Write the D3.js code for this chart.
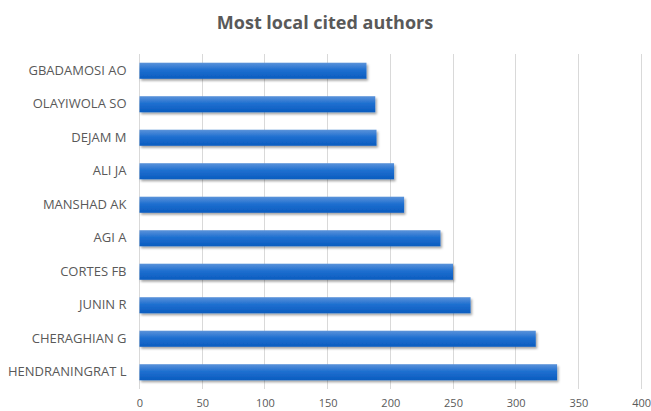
<!DOCTYPE html>
<html>
<head>
<meta charset="utf-8">
<script src="https://cdn.jsdelivr.net/npm/d3@7"></script>
<style>
  html, body { margin: 0; padding: 0; background: #fff; }
  svg { display: block; }
</style>
</head>
<body>
<svg id="chart" width="651" height="411"></svg>
<script>
// Authors, top of chart first
const authors = ["GBADAMOSI AO", "OLAYIWOLA SO", "DEJAM M", "ALI JA", "MANSHAD AK",
                 "AGI A", "CORTES FB", "JUNIN R", "CHERAGHIAN G", "HENDRANINGRAT L"];
// Local citation counts
const citations = [181, 188, 189, 203, 211, 240, 250, 264, 316, 333];
// X axis ticks
const xTicks = [0, 50, 100, 150, 200, 250, 300, 350, 400];

const svg = d3.select("#chart");
const margin = { left: 139.5, right: 10, top: 54, bottom: 22 };
const W = 651, H = 411;

const x = d3.scaleLinear().domain([0, 400]).range([margin.left, margin.left + 400 * 1.254]);
const y = d3.scaleBand().domain(authors).range([margin.top, H - margin.bottom]).paddingInner(0.52).paddingOuter(0.26);

const defs = svg.append("defs");
const grad = defs.append("linearGradient").attr("id", "barGrad")
  .attr("x1", 0).attr("y1", 0).attr("x2", 0).attr("y2", 1);
grad.append("stop").attr("offset", "0%").attr("stop-color", "#5b93da");
grad.append("stop").attr("offset", "45%").attr("stop-color", "#1f6fd0");
grad.append("stop").attr("offset", "100%").attr("stop-color", "#0a5cbf");

const shadow = defs.append("filter").attr("id", "shadow")
  .attr("x", "-5%").attr("y", "-30%").attr("width", "115%").attr("height", "190%");
shadow.append("feDropShadow").attr("dx", 1.5).attr("dy", 2).attr("stdDeviation", 1.2)
  .attr("flood-color", "#000").attr("flood-opacity", 0.35);

// Title
svg.append("text")
  .attr("x", 325).attr("y", 29)
  .attr("text-anchor", "middle")
  .attr("font-family", "'Open Sans', 'Liberation Sans', sans-serif")
  .attr("font-weight", "bold")
  .attr("font-size", 18)
  .attr("fill", "#595959")
  .text("Most local cited authors");

// Vertical gridlines
svg.append("g").selectAll("line").data(xTicks).join("line")
  .attr("x1", d => x(d)).attr("x2", d => x(d))
  .attr("y1", margin.top).attr("y2", H - margin.bottom)
  .attr("stroke", "#d9d9d9").attr("stroke-width", 1)
  .attr("shape-rendering", "crispEdges");

// Bars
svg.append("g").selectAll("rect").data(authors).join("rect")
  .attr("x", x(0))
  .attr("y", d => y(d))
  .attr("width", (d, i) => x(citations[i]) - x(0))
  .attr("height", y.bandwidth())
  .attr("fill", "url(#barGrad)")
  .attr("filter", "url(#shadow)");

// Category labels
const yAxis = d3.axisLeft(y).tickSize(0).tickPadding(13);
const gy = svg.append("g").attr("transform", `translate(${x(0)},0)`).call(yAxis);
gy.select(".domain").remove();
gy.selectAll("text")
  .attr("font-family", "'Open Sans', 'Liberation Sans', sans-serif")
  .attr("font-size", 13)
  .attr("fill", "#595959");

// X axis tick labels
const xAxis = d3.axisBottom(x).tickValues(xTicks).tickSize(0).tickPadding(10);
const gx = svg.append("g").attr("transform", `translate(0,${H - margin.bottom})`).call(xAxis);
gx.select(".domain").remove();
gx.selectAll("text")
  .attr("font-family", "'Open Sans', 'Liberation Sans', sans-serif")
  .attr("font-size", 11)
  .attr("fill", "#595959");
</script>
</body>
</html>
